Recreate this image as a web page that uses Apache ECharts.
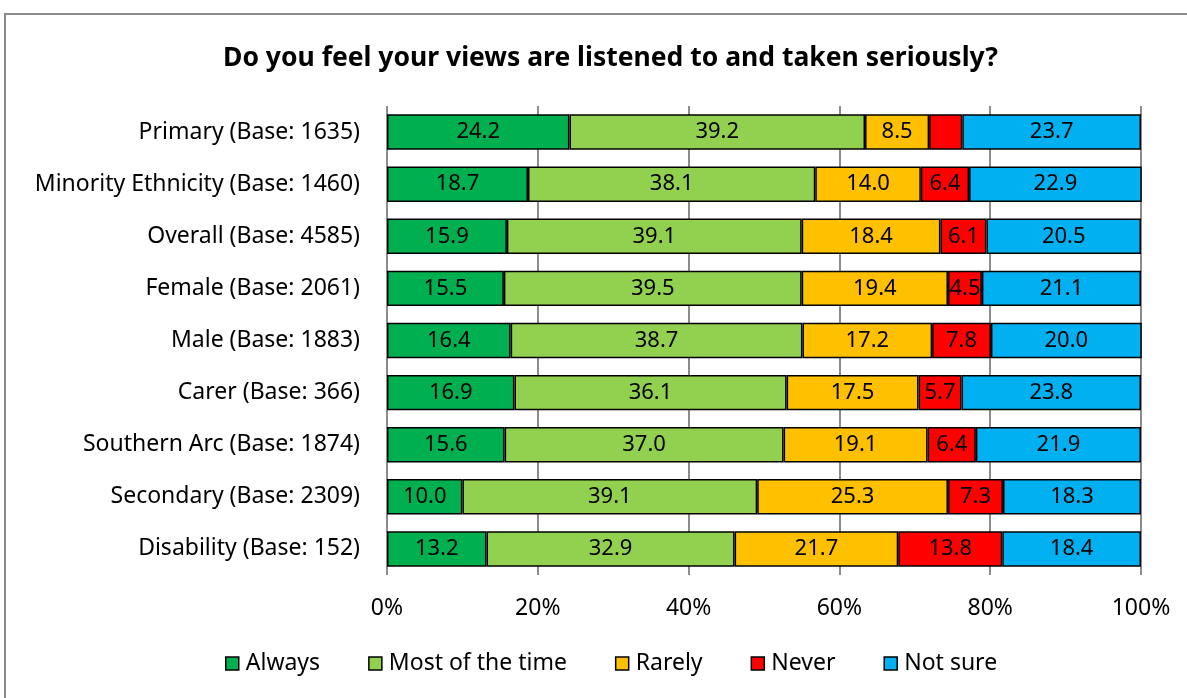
<!DOCTYPE html>
<html>
<head>
<meta charset="utf-8">
<script src="https://cdn.jsdelivr.net/npm/echarts@6/dist/echarts.min.js"></script>
<style>
html,body{margin:0;padding:0;background:#fff;}
#c{width:1187px;height:698px;}
</style>
</head>
<body>
<div id="c"></div>
<script>
const categories = [
  "Primary (Base: 1635)",
  "Minority Ethnicity (Base: 1460)",
  "Overall (Base: 4585)",
  "Female (Base: 2061)",
  "Male (Base: 1883)",
  "Carer (Base: 366)",
  "Southern Arc (Base: 1874)",
  "Secondary (Base: 2309)",
  "Disability (Base: 152)"
];
const always     = [24.2, 18.7, 15.9, 15.5, 16.4, 16.9, 15.6, 10.0, 13.2];
const mostTime   = [39.2, 38.1, 39.1, 39.5, 38.7, 36.1, 37.0, 39.1, 32.9];
const rarely     = [8.5, 14.0, 18.4, 19.4, 17.2, 17.5, 19.1, 25.3, 21.7];
const never      = [4.4, 6.4, 6.1, 4.5, 7.8, 5.7, 6.4, 7.3, 13.8];
const notSure    = [23.7, 22.9, 20.5, 21.1, 20.0, 23.8, 21.9, 18.3, 18.4];
const seriesNames = ["Always", "Most of the time", "Rarely", "Never", "Not sure"];
const colors = ["#00B050", "#92D050", "#FFC000", "#FF0000", "#00B0F0"];
const xTicks = [0, 20, 40, 60, 80, 100];
// labels not shown in the original (series index, category index)
const hiddenLabels = [[3, 0]];

const FONT = "Noto Sans";
const all = [always, mostTime, rarely, never, notSure];

const series = all.map((arr, si) => ({
  name: seriesNames[si],
  type: 'bar',
  stack: 'total',
  barWidth: '68%',
  itemStyle: { color: colors[si], borderColor: '#000', borderWidth: 1.5 },
  label: {
    show: true,
    position: 'inside',
    color: '#000',
    fontFamily: FONT,
    fontSize: 22,
    formatter: p => p.value.toFixed(1)
  },
  data: arr.map((v, ci) => {
    const hide = hiddenLabels.some(h => h[0] === si && h[1] === ci);
    return hide ? { value: v, label: { show: false } } : v;
  })
}));

const chart = echarts.init(document.getElementById('c'));
chart.setOption({
  animation: false,
  backgroundColor: '#fff',
  title: {
    text: 'Do you feel your views are listened to and taken seriously?',
    left: 218,
    top: 40,
    textStyle: { fontFamily: FONT, fontWeight: 'bold', fontSize: 26.5, color: '#000' }
  },
  graphic: [{
    type: 'rect',
    shape: { x: 5, y: 14, width: 1200, height: 700 },
    style: { fill: 'none', stroke: '#8c8c8c', lineWidth: 2 },
    silent: true
  }],
  legend: {
    bottom: 18,
    left: 220,
    itemWidth: 13,
    itemHeight: 13,
    itemGap: 48,
    icon: 'rect',
    itemStyle: { borderColor: '#000', borderWidth: 1.5 },
    textStyle: { fontFamily: FONT, fontSize: 23, color: '#000', padding: [0, 0, 0, 2] },
    data: seriesNames
  },
  grid: { left: 387, right: 46, top: 106, bottom: 123, containLabel: false },
  xAxis: {
    type: 'value',
    min: 0,
    max: 100,
    interval: 20,
    axisLine: { show: false },
    axisTick: { show: false },
    splitLine: { show: true, lineStyle: { color: '#8c8c8c', width: 2 } },
    axisLabel: {
      fontFamily: FONT, fontSize: 23, color: '#000', margin: 22,
      formatter: v => xTicks.includes(v) ? v + '%' : ''
    }
  },
  yAxis: {
    type: 'category',
    inverse: true,
    data: categories,
    axisLine: { show: false },
    axisTick: { show: false },
    axisLabel: { fontFamily: FONT, fontSize: 23, color: '#000', margin: 27 }
  },
  series: series
});
</script>
</body>
</html>
